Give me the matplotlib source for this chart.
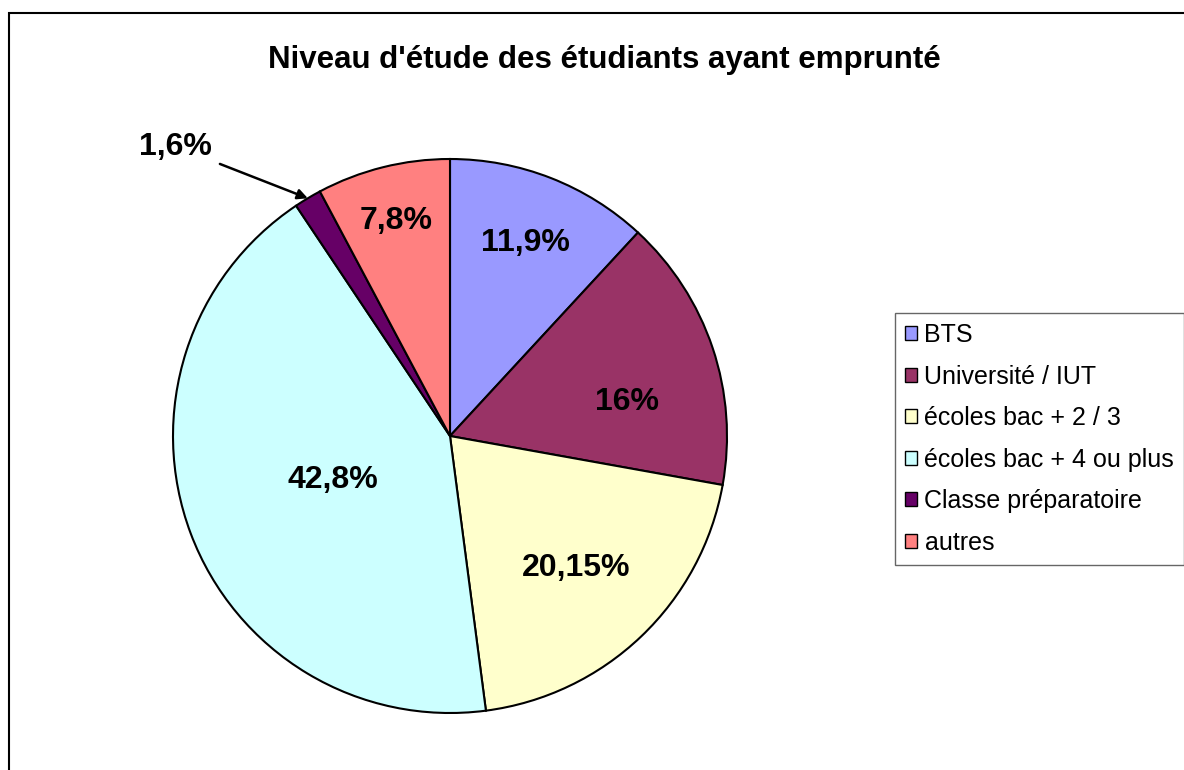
import numpy as np
import matplotlib
matplotlib.use('Agg')
import matplotlib.pyplot as plt
from matplotlib.patches import Rectangle

plt.rcParams['font.family'] = ['Liberation Sans', 'DejaVu Sans']

categories = ['BTS', 'Université / IUT', 'écoles bac + 2 / 3',
              'écoles bac + 4 ou plus', 'Classe préparatoire', 'autres']
values = [11.9, 16, 20.15, 42.8, 1.6, 7.8]
value_labels = ['11,9%', '16%', '20,15%', '42,8%', '1,6%', '7,8%']
colors = ['#9999FF', '#993366', '#FFFFCC', '#CCFFFF', '#660066', '#FF8080']
title = "Niveau d'étude des étudiants ayant emprunté"

# label radius / angle shift for each wedge (None = outside with an arrow)
label_r = [0.75, 0.65, 0.66, 0.45, None, 0.80]
label_dang = [0, -7.5, 0, 0, 12.6, 0]

fig = plt.figure(figsize=(11.84, 7.70), dpi=100)
fig.patches.append(Rectangle((9/1184, -0.1), 1.2, (770-13)/770 + 0.1,
                             transform=fig.transFigure, fill=False,
                             edgecolor='black', linewidth=1.5))

ax = fig.add_axes([(450-277)/1184, (770-713)/770, 554/1184, 554/770])
wedges, _ = ax.pie(values, colors=colors, startangle=90, counterclock=False,
                   radius=1.0, wedgeprops=dict(edgecolor='black', linewidth=1.5))
ax.set_aspect('equal')
ax.set_xlim(-1, 1)
ax.set_ylim(-1, 1)

for w, lab, r, da in zip(wedges, value_labels, label_r, label_dang):
    ang = np.deg2rad((w.theta1 + w.theta2) / 2)
    a2 = ang + np.deg2rad(da)
    if r is not None:
        ax.text(r*np.cos(a2), r*np.sin(a2), lab, ha='center', va='center',
                fontsize=23, fontweight='bold')
    else:
        tip = (np.cos(ang), np.sin(ang))
        ax.annotate(lab, xy=tip, xytext=(1.44*np.cos(a2), 1.44*np.sin(a2)),
                    ha='center', va='center', fontsize=23, fontweight='bold',
                    annotation_clip=False,
                    arrowprops=dict(arrowstyle='-|>', color='black', lw=1.8,
                                    shrinkA=4, shrinkB=0, mutation_scale=15))

fig.text(604/1184, 1 - 60/770, title, ha='center', va='center',
         fontsize=22.5, fontweight='bold')

leg = fig.legend(wedges, categories, loc='upper left',
                 bbox_to_anchor=(895/1184, 1 - 313/770), fontsize=18,
                 frameon=True, fancybox=False, shadow=False,
                 handlelength=0.48, handleheight=0.48, handletextpad=0.3,
                 labelspacing=0.7, borderpad=0.4, borderaxespad=0)
leg.get_frame().set_edgecolor('#404040')
leg.get_frame().set_linewidth(1.0)
for h in leg.legend_handles:
    h.set_linewidth(1.0)

fig.savefig('out.png', dpi=100)
